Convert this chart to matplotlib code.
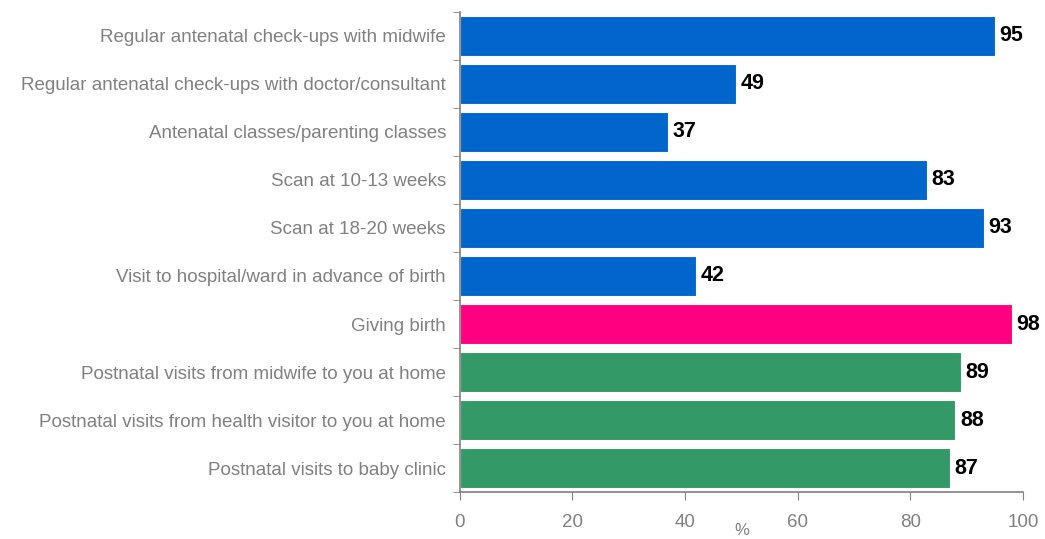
import matplotlib
matplotlib.use('Agg')
import matplotlib.pyplot as plt
from matplotlib import font_manager
import numpy as np

categories = ['Regular antenatal check-ups with midwife',
              'Regular antenatal check-ups with doctor/consultant',
              'Antenatal classes/parenting classes',
              'Scan at 10-13 weeks',
              'Scan at 18-20 weeks',
              'Visit to hospital/ward in advance of birth',
              'Giving birth',
              'Postnatal visits from midwife to you at home',
              'Postnatal visits from health visitor to you at home',
              'Postnatal visits to baby clinic']
values = [95, 49, 37, 83, 93, 42, 98, 89, 88, 87]
stage = ['ante'] * 6 + ['birth'] + ['post'] * 3
stage_colors = {'ante': '#0066CC', 'birth': '#FF0080', 'post': '#339966'}
xticks = [0, 20, 40, 60, 80, 100]

names = sorted(set(f.name for f in font_manager.fontManager.ttflist))
print([n for n in names if 'Narrow' in n or 'Condensed' in n])
narrow = 'Liberation Sans Narrow' if 'Liberation Sans Narrow' in names else 'Liberation Sans'
plt.rcParams['font.family'] = [narrow, 'DejaVu Sans']
grey = '#808080'

fig = plt.figure(figsize=(10.45, 5.39), dpi=100)
ax = fig.add_axes([0.440, 0.087, 0.539, 0.891])

ypos = np.arange(len(categories))
cols = [stage_colors[s] for s in stage]
ax.barh(ypos, values, height=0.84, color=cols, edgecolor='white', linewidth=0.8)
for y, v in zip(ypos, values):
    ax.text(v + 0.8, y, str(v), va='center', ha='left', fontsize=15.5,
            fontweight='bold', color='black')

ax.set_ylim(len(categories) - 0.5, -0.5)
ax.set_xlim(0, 100)
ax.set_xticks(xticks)
ax.set_xticklabels([str(t) for t in xticks], color=grey, fontsize=13.5)
ax.set_yticks(ypos)
ax.set_yticklabels(categories, color=grey, fontsize=13.5)
ax.tick_params(axis='y', length=0, pad=10)
ax.set_yticks(np.arange(-0.5, len(categories)), minor=True)
ax.tick_params(axis='y', which='minor', length=5, color=grey, direction='out')
ax.tick_params(axis='x', length=6, color=grey, direction='out', pad=10)
ax.set_xlabel('%', color=grey, fontsize=12, labelpad=-6)

for s in ['top', 'right']:
    ax.spines[s].set_visible(False)
for s in ['left', 'bottom']:
    ax.spines[s].set_color(grey)
    ax.spines[s].set_linewidth(1.2)

fig.savefig('out.png', dpi=100)
